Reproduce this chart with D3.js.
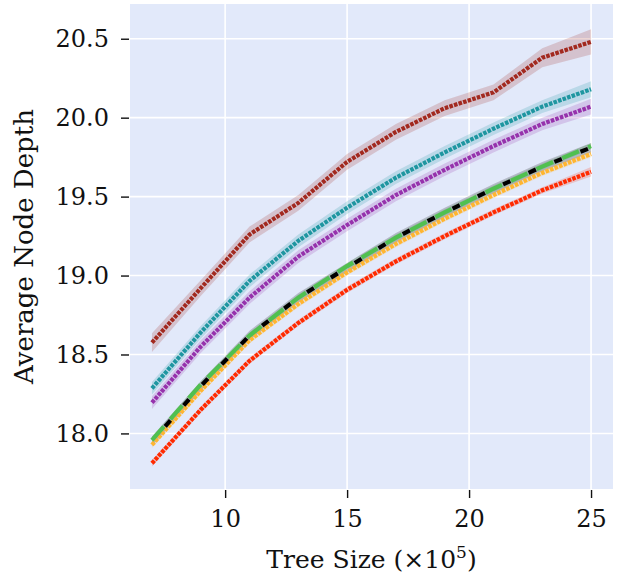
<!DOCTYPE html>
<html>
<head>
    <script src='https://cdn.jsdelivr.net/npm/d3@7/dist/d3.min.js' charset='utf-8'></script>
    <style type="text/css">
        body { margin: 0; background: #fff; }
        .chart text { font-family: 'DejaVu Serif', serif; fill: #111; }
    </style>
</head>
<body>
    <svg class='chart'></svg>

    <script type='text/javascript'>
    var sizes = [7, 9, 11, 13, 15, 17, 19, 21, 23, 25];

    var brownVals  = [18.575, 18.92, 19.26, 19.46, 19.72, 19.91, 20.06, 20.16, 20.38, 20.48];
    var tealVals   = [18.286, 18.64, 18.966, 19.22, 19.43, 19.62, 19.78, 19.93, 20.07, 20.18];
    var purpleVals = [18.195, 18.55, 18.86, 19.12, 19.32, 19.51, 19.67, 19.82, 19.96, 20.07];
    var greenVals  = [17.957, 18.31, 18.62, 18.86, 19.06, 19.24, 19.40, 19.55, 19.69, 19.82];
    var blackVals  = [17.950, 18.30, 18.62, 18.86, 19.05, 19.24, 19.40, 19.55, 19.69, 19.81];
    var orangeVals = [17.927, 18.27, 18.59, 18.82, 19.02, 19.20, 19.36, 19.51, 19.65, 19.77];
    var redVals    = [17.811, 18.15, 18.46, 18.70, 18.91, 19.09, 19.25, 19.40, 19.54, 19.657];

    var brownErr  = [0.06, 0.05, 0.05, 0.05, 0.05, 0.05, 0.05, 0.05, 0.06, 0.08];
    var tealErr   = [0.04, 0.04, 0.04, 0.04, 0.04, 0.04, 0.04, 0.04, 0.04, 0.05];
    var purpleErr = [0.04, 0.04, 0.04, 0.04, 0.04, 0.04, 0.04, 0.04, 0.04, 0.05];
    var greenErr  = [0.02, 0.02, 0.02, 0.02, 0.02, 0.02, 0.02, 0.02, 0.02, 0.02];
    var blackErr  = [0.03, 0.03, 0.03, 0.03, 0.03, 0.03, 0.03, 0.03, 0.03, 0.03];
    var orangeErr = [0.02, 0.02, 0.02, 0.02, 0.02, 0.02, 0.02, 0.02, 0.02, 0.02];
    var redErr    = [0.02, 0.02, 0.02, 0.02, 0.02, 0.02, 0.02, 0.02, 0.02, 0.03];

    var xTicks = [10, 15, 20, 25];
    var yTicks = [18.0, 18.5, 19.0, 19.5, 20.0, 20.5];

    var series = [
        { vals: brownVals,  err: brownErr,  color: '#a2291f', dash: '3.6,1.2' },
        { vals: tealVals,   err: tealErr,   color: '#1e96a0', dash: '3.6,1.2' },
        { vals: purpleVals, err: purpleErr, color: '#9632ac', dash: '3.6,1.2' },
        { vals: redVals,    err: redErr,    color: '#ff2a00', dash: '3.6,1.2' },
        { vals: orangeVals, err: orangeErr, color: '#ffb530', dash: '3.6,1.2' },
        { vals: greenVals,  err: greenErr,  color: '#50c050', dash: '18,10' },
        { vals: blackVals,  err: blackErr,  color: '#000000', dash: '8,20', offset: -20 }
    ];

    var width = 618, height = 575;
    var pLeft = 130, pRight = 613, pTop = 4, pBottom = 489;

    var x = d3.scaleLinear().domain([6.1, 25.9]).range([pLeft, pRight]);
    var y = d3.scaleLinear().domain([17.648, 20.72]).range([pBottom, pTop]);

    var chart = d3.select('.chart')
        .attr('width', width)
        .attr('height', height);

    chart.append('rect')
        .attr('x', pLeft).attr('y', pTop)
        .attr('width', pRight - pLeft).attr('height', pBottom - pTop)
        .attr('fill', '#e2e9fa');

    // grid
    chart.append('g').selectAll('line').data(xTicks).enter().append('line')
        .attr('x1', function (d) { return x(d); }).attr('x2', function (d) { return x(d); })
        .attr('y1', pTop).attr('y2', pBottom)
        .attr('stroke', '#fff').attr('stroke-width', 1.6);
    chart.append('g').selectAll('line').data(yTicks).enter().append('line')
        .attr('y1', function (d) { return y(d); }).attr('y2', function (d) { return y(d); })
        .attr('x1', pLeft).attr('x2', pRight)
        .attr('stroke', '#fff').attr('stroke-width', 1.6);

    var area = d3.area()
        .x(function (d) { return x(d.x); })
        .y0(function (d) { return y(d.v - d.e); })
        .y1(function (d) { return y(d.v + d.e); });

    var line = d3.line()
        .x(function (d) { return x(d.x); })
        .y(function (d) { return y(d.v); });

    series.forEach(function (s) {
        s.pts = sizes.map(function (sz, i) { return { x: sz, v: s.vals[i], e: s.err[i] }; });
    });

    chart.append('g').selectAll('path').data(series).enter().append('path')
        .attr('d', function (s) { return area(s.pts); })
        .attr('fill', function (s) { return s.color; })
        .attr('fill-opacity', 0.2);

    chart.append('g').selectAll('path').data(series).enter().append('path')
        .attr('d', function (s) { return line(s.pts); })
        .attr('fill', 'none')
        .attr('stroke', function (s) { return s.color; })
        .attr('stroke-width', 4.2)
        .attr('stroke-dasharray', function (s) { return s.dash; })
        .attr('stroke-dashoffset', function (s) { return s.offset || 0; });

    // axes
    var xAxis = chart.append('g')
        .attr('transform', 'translate(0,' + (pBottom + 1) + ')')
        .call(d3.axisBottom(x).tickValues(xTicks).tickSize(8).tickPadding(12)
            .tickFormat(d3.format('d')));
    var yAxis = chart.append('g')
        .attr('transform', 'translate(' + (pLeft - 1) + ',0)')
        .call(d3.axisLeft(y).tickValues(yTicks).tickSize(8).tickPadding(12)
            .tickFormat(d3.format('.1f')));

    [xAxis, yAxis].forEach(function (a) {
        a.select('.domain').remove();
        a.selectAll('line').attr('stroke', '#111').attr('stroke-width', 1.4);
        a.selectAll('text').attr('font-size', 24).attr('font-family', 'DejaVu Serif');
    });

    var xl = chart.append('text')
        .attr('x', (pLeft + pRight) / 2).attr('y', 568)
        .attr('text-anchor', 'middle')
        .attr('font-size', 25);
    xl.append('tspan').text('Tree Size (\u00d710');
    xl.append('tspan').attr('font-size', 17).attr('dy', -10).text('5');
    xl.append('tspan').attr('dy', 10).text(')');

    chart.append('text')
        .attr('transform', 'translate(33,' + (pTop + pBottom) / 2 + ') rotate(-90)')
        .attr('text-anchor', 'middle')
        .attr('font-size', 26)
        .text('Average Node Depth');
    </script>
</body>
</html>
